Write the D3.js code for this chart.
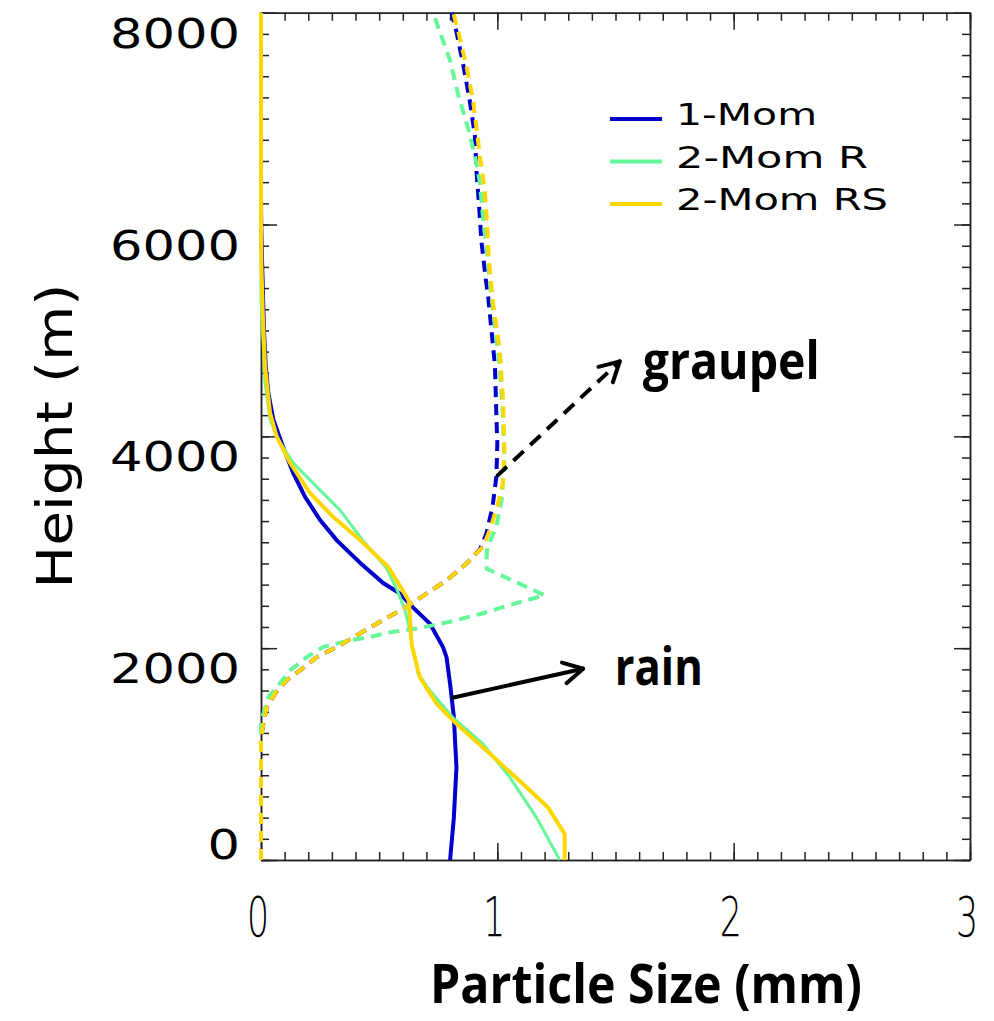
<!DOCTYPE html>
<html>
<head>
<meta charset="utf-8">
<script src="https://cdn.jsdelivr.net/npm/d3@7"></script>
<style>
  body { margin: 0; background: #fff; }
</style>
</head>
<body>
<svg id="chart"></svg>
<script>
const width = 994;
const height = 1021;

// [size (mm), height (m)]
const rain1Mom = [[0.80,0],[0.816,400],[0.827,875],[0.816,1350],[0.80,1665],[0.785,1915],[0.77,2010],[0.715,2230],[0.643,2385],[0.588,2515],[0.517,2615],[0.42,2805],[0.32,3020],[0.25,3210],[0.186,3430],[0.136,3655],[0.087,3940],[0.052,4160],[0.031,4410],[0.02,4665],[0.013,4980],[0.009,5295],[0.004,5700],[0.001,6000],[0,6200],[0,8000]];
const rain2MomR = [[1.264,0],[1.166,400],[1.053,780],[0.94,1095],[0.81,1350],[0.715,1600],[0.665,1760],[0.643,1980],[0.63,2170],[0.609,2360],[0.574,2560],[0.53,2760],[0.43,3020],[0.334,3305],[0.235,3525],[0.136,3750],[0.073,3970],[0.038,4160],[0.017,4510],[0.007,4980],[0,5300],[0,8000]];
const rain2MomRS = [[1.285,0],[1.285,245],[1.215,495],[1.11,715],[0.97,1000],[0.827,1285],[0.743,1475],[0.672,1725],[0.637,2040],[0.63,2290],[0.625,2450],[0.56,2690],[0.537,2770],[0.42,3020],[0.305,3240],[0.207,3465],[0.123,3750],[0.066,4000],[0.038,4225],[0.017,4665],[0.008,5135],[0.002,5600],[0,6000],[0,8000]];

const graupel1Mom = [[0,0],[0,1150],[0.003,1190],[0.01,1285],[0.024,1440],[0.059,1570],[0.108,1695],[0.165,1790],[0.235,1915],[0.32,2010],[0.42,2140],[0.516,2265],[0.616,2390],[0.70,2515],[0.785,2640],[0.87,2800],[0.926,2930],[0.954,3085],[0.98,3340],[0.996,3620],[1.0,3940],[0.996,4190],[0.99,4665],[0.961,5325],[0.951,5485],[0.933,5835],[0.923,6165],[0.912,6500],[0.905,6840],[0.884,7160],[0.856,7505],[0.827,7820],[0.806,8000]];
const graupel2MomR = [[0,0],[0,1330],[0.01,1380],[0.031,1535],[0.066,1630],[0.123,1790],[0.193,1915],[0.262,2010],[0.376,2075],[0.46,2105],[0.545,2150],[0.66,2185],[0.80,2250],[0.94,2330],[1.08,2425],[1.2,2500],[0.955,2750],[0.955,2900],[0.96,2960],[0.996,3150],[1.018,3400],[1.03,3715],[1.024,4190],[1.01,4665],[0.98,5230],[0.971,5390],[0.957,5740],[0.94,6050],[0.926,6400],[0.905,6650],[0.877,6905],[0.835,7220],[0.80,7550],[0.75,7860],[0.729,8000]];
const graupel2MomRS = [[0,0],[0,1150],[0.003,1190],[0.01,1285],[0.024,1440],[0.059,1570],[0.108,1695],[0.165,1790],[0.235,1915],[0.32,2010],[0.42,2140],[0.516,2265],[0.616,2390],[0.70,2515],[0.785,2640],[0.87,2800],[0.94,2960],[0.968,3115],[1.0,3340],[1.024,3560],[1.03,3875],[1.024,4350],[1.01,4820],[0.98,5295],[0.965,5645],[0.957,5990],[0.947,6320],[0.926,6650],[0.898,7160],[0.87,7490],[0.835,7820],[0.813,8000]];

const seriesNames = ["1-Mom", "2-Mom R", "2-Mom RS"];
const seriesColors = ["#0000cd", "#66f79a", "#ffd700"];
const xTicks = [0, 1, 2, 3];
const yTicks = [0, 2000, 4000, 6000, 8000];

const svg = d3.select('#chart')
  .attr('width', width)
  .attr('height', height);

const x = d3.scaleLinear().domain([0, 3]).range([261, 970]);
const y = d3.scaleLinear().domain([0, 8000]).range([860, 12.7]);

// 坐标轴：四边都画，刻度朝内
const xMinor = d3.range(0, 31).map(i => i / 10);
const yMinor = d3.range(0, 41).map(i => i * 200);
const axisStyle = g => {
  g.selectAll("path, line").attr("stroke", "#222").attr("stroke-width", 1.5);
  g.selectAll("text").remove();
};
[[d3.axisBottom(x), 860], [d3.axisTop(x), 12.7]].forEach(([ax, ty]) => {
  svg.append("g").attr("transform", `translate(0,${ty})`)
    .call(ax.tickValues(xMinor).tickSize(-8).tickSizeOuter(0)).call(axisStyle);
  svg.append("g").attr("transform", `translate(0,${ty})`)
    .call(ax.tickValues(xTicks).tickSize(-17).tickSizeOuter(0)).call(axisStyle);
});
[[d3.axisLeft(y), 261], [d3.axisRight(y), 970]].forEach(([ax, tx]) => {
  svg.append("g").attr("transform", `translate(${tx},0)`)
    .call(ax.tickValues(yMinor).tickSize(-8).tickSizeOuter(0)).call(axisStyle);
  svg.append("g").attr("transform", `translate(${tx},0)`)
    .call(ax.tickValues(yTicks).tickSize(-16).tickSizeOuter(0)).call(axisStyle);
});

// 刻度标签
svg.selectAll(".ylab")
  .data(yTicks).join("text")
  .attr("class", "ylab")
  .attr("x", 240)
  .attr("y", d => y(d) + (d === 0 ? -15 : 21))
  .attr("dominant-baseline", "central")
  .attr("text-anchor", "end")
  .attr("font-family", "DejaVu Sans")
  .attr("font-size", 41)
  .attr("textLength", d => String(d).length * 32.5)
  .attr("lengthAdjust", "spacingAndGlyphs")
  .text(d => d);

svg.selectAll(".xlab")
  .data(xTicks).join("text")
  .attr("class", "xlab")
  .attr("transform", d => `translate(${x(d) - 3},936) scale(0.62,1)`)
  .attr("text-anchor", "middle")
  .attr("font-family", "DejaVu Sans")
  .attr("font-weight", 300)
  .attr("font-size", 56)
  .text(d => d);

svg.append("text")
  .attr("transform", "translate(72,436) rotate(-90)")
  .attr("text-anchor", "middle")
  .attr("font-family", "DejaVu Sans")
  .attr("font-size", 50)
  .attr("textLength", 305)
  .attr("lengthAdjust", "spacingAndGlyphs")
  .text("Height (m)");

svg.append("text")
  .attr("x", 430)
  .attr("y", 1003)
  .attr("font-family", "Open Sans")
  .attr("font-weight", "bold")
  .attr("font-size", 54)
  .attr("textLength", 432)
  .attr("lengthAdjust", "spacingAndGlyphs")
  .text("Particle Size (mm)");

// 曲线
const line = d3.line().x(d => x(d[0])).y(d => y(d[1]));
const curves = [
  [rain1Mom, 0, null], [graupel1Mom, 0, "11,7"],
  [rain2MomR, 1, null], [graupel2MomR, 1, "11,7"],
  [rain2MomRS, 2, null], [graupel2MomRS, 2, "11,7"]
];
curves.forEach(([data, i, dash]) => {
  svg.append("path")
    .attr("d", line(data))
    .attr("fill", "none")
    .attr("stroke", seriesColors[i])
    .attr("stroke-width", dash ? 4 : (i === 1 ? 3 : 4))
    .attr("stroke-dasharray", dash);
});

// 图例
seriesNames.forEach((name, i) => {
  const ly = 119 + i * 42.5;
  svg.append("line")
    .attr("x1", 610).attr("x2", 662)
    .attr("y1", ly).attr("y2", ly)
    .attr("stroke", seriesColors[i])
    .attr("stroke-width", 4);
  svg.append("text")
    .attr("x", 676)
    .attr("y", ly + 6)
    .attr("font-family", "DejaVu Sans")
    .attr("font-size", 30)
    .attr("textLength", [141, 192, 212][i])
    .attr("lengthAdjust", "spacingAndGlyphs")
    .text(name);
});

// 注释箭头
function arrow(from, to, dash) {
  const x0 = x(from[0]), y0 = y(from[1]), x1 = x(to[0]), y1 = y(to[1]);
  const a = Math.atan2(y1 - y0, x1 - x0);
  svg.append("line")
    .attr("x1", x0).attr("y1", y0).attr("x2", x1).attr("y2", y1)
    .attr("stroke", "#000").attr("stroke-width", 4)
    .attr("stroke-dasharray", dash);
  [-0.5, 0.5].forEach(da => {
    svg.append("line")
      .attr("x1", x1).attr("y1", y1)
      .attr("x2", x1 - 22 * Math.cos(a + da))
      .attr("y2", y1 - 22 * Math.sin(a + da))
      .attr("stroke", "#000").attr("stroke-width", 4)
      .attr("stroke-linecap", "round");
  });
}
arrow([0.997, 3622], [1.518, 4708], "14,9");
arrow([0.805, 1530], [1.363, 1806], null);

svg.append("text")
  .attr("x", x(1.615)).attr("y", y(4538))
  .attr("font-family", "Open Sans").attr("font-weight", "bold")
  .attr("font-size", 52)
  .attr("textLength", 177).attr("lengthAdjust", "spacingAndGlyphs")
  .text("graupel");
svg.append("text")
  .attr("x", x(1.497)).attr("y", y(1648))
  .attr("font-family", "Open Sans").attr("font-weight", "bold")
  .attr("font-size", 52)
  .attr("textLength", 88).attr("lengthAdjust", "spacingAndGlyphs")
  .text("rain");
</script>
</body>
</html>
